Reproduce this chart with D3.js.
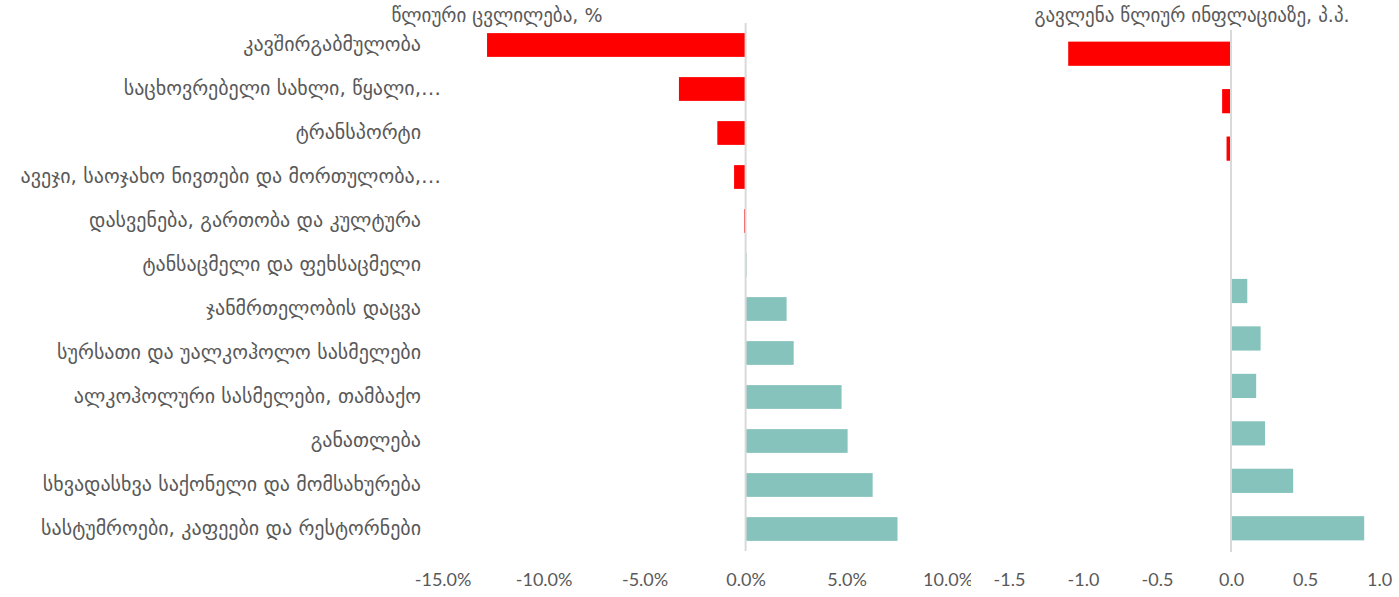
<!DOCTYPE html>
<html>

<head>
    <meta charset='utf-8'>
    <title>Inflation by category</title>
    <script type='text/javascript' src='https://cdn.jsdelivr.net/npm/d3@7'></script>
    <style>
        body { margin: 0; background: #fff; }
    </style>
</head>

<body>
    <svg width='1399' height='597'></svg>
    <script type='text/javascript'>

        // categories, top to bottom
        const categories = [
            'კავშირგაბმულობა',
            'საცხოვრებელი სახლი, წყალი,…',
            'ტრანსპორტი',
            'ავეჯი, საოჯახო ნივთები და მორთულობა,…',
            'დასვენება, გართობა და კულტურა',
            'ტანსაცმელი და ფეხსაცმელი',
            'ჯანმრთელობის დაცვა',
            'სურსათი და უალკოჰოლო სასმელები',
            'ალკოჰოლური სასმელები, თამბაქო',
            'განათლება',
            'სხვადასხვა საქონელი და მომსახურება',
            'სასტუმროები, კაფეები და რესტორნები'
        ]
        // annual change, %
        const annualChange = [-12.8, -3.3, -1.4, -0.57, -0.07, 0.05, 2.03, 2.38, 4.75, 5.05, 6.29, 7.52]
        // contribution to annual inflation, p.p. (11 rows in the right panel)
        const contribution = [-1.1, -0.06, -0.03, 0, 0, 0.11, 0.2, 0.17, 0.23, 0.42, 0.9]

        const leftTicks = [-15, -10, -5, 0, 5, 10]
        const rightTicks = [-1.5, -1.0, -0.5, 0, 0.5, 1.0]
        const leftTitle = 'წლიური ცვლილება, %'
        const rightTitle = 'გავლენა წლიურ ინფლაციაზე, პ.პ.'

        const red = '#ff0000'
        const teal = '#86c3bc'
        const textColor = '#595959'
        const numFont = 'Lato, "Open Sans", sans-serif'
        const geoFont = '"DejaVu Sans", sans-serif'

        const svg = d3.select('svg')

        svg.append('defs').append('clipPath').attr('id', 'leftClip')
            .append('rect').attr('x', 0).attr('y', 0).attr('width', 971).attr('height', 597)

        // ---- left panel ----
        const left = svg.append('g').attr('clip-path', 'url(#leftClip)')

        const xL = d3.scaleLinear().domain([-15, 10]).range([442.6, 947.6])
        const yL = d3.scaleBand().domain(categories).range([23, 551])
            .paddingInner(0.46).paddingOuter(0.23)

        left.selectAll('rect.bar')
            .data(categories)
            .enter()
            .append('rect')
            .attr('class', 'bar')
            .attr('x', (d, i) => Math.min(xL(0), xL(annualChange[i])))
            .attr('y', d => yL(d))
            .attr('width', (d, i) => Math.abs(xL(annualChange[i]) - xL(0)))
            .attr('height', yL.bandwidth())
            .attr('fill', (d, i) => annualChange[i] < 0 ? red : teal)

        left.append('line')
            .attr('x1', xL(0)).attr('x2', xL(0))
            .attr('y1', 23).attr('y2', 551)
            .attr('stroke', '#d9d9d9').attr('stroke-width', 2)

        const axisL = left.append('g')
            .attr('transform', 'translate(0,570)')
            .call(d3.axisBottom(xL).tickValues(leftTicks).tickSize(0).tickPadding(3)
                .tickFormat(d => d.toFixed(1) + '%'))
        axisL.select('.domain').remove()
        axisL.selectAll('text')
            .attr('fill', textColor)
            .style('font-family', numFont)
            .style('font-size', '18px')

        // ellipsis width, so truncated labels hang past the right edge like Excel does
        const probe = svg.append('text').text('…')
            .style('font-family', geoFont).style('font-size', '20px')
        const ellipsisW = probe.node().getComputedTextLength()
        probe.remove()

        left.selectAll('text.cat')
            .data(categories)
            .enter()
            .append('text')
            .attr('class', 'cat')
            .attr('x', d => d.endsWith('…') ? 421 + ellipsisW : 421)
            .attr('y', d => yL(d) + yL.bandwidth() / 2)
            .attr('dy', '0.3em')
            .attr('text-anchor', 'end')
            .attr('fill', textColor)
            .style('font-family', geoFont)
            .style('font-size', '20px')
            .text(d => d)

        svg.append('text')
            .attr('x', 497).attr('y', 16).attr('dy', '0.3em')
            .attr('text-anchor', 'middle')
            .attr('fill', textColor)
            .style('font-family', geoFont)
            .style('font-size', '19px')
            .text(leftTitle)

        // ---- right panel ----
        const right = svg.append('g')
        const xR = d3.scaleLinear().domain([-1.5, 1.0]).range([1009, 1379])
        const yR = d3.scaleBand().domain(d3.range(contribution.length)).range([30, 552])
            .paddingInner(0.49).paddingOuter(0.245)

        right.selectAll('rect.bar')
            .data(contribution)
            .enter()
            .append('rect')
            .attr('class', 'bar')
            .attr('x', d => Math.min(xR(0), xR(d)))
            .attr('y', (d, i) => yR(i))
            .attr('width', d => Math.abs(xR(d) - xR(0)))
            .attr('height', yR.bandwidth())
            .attr('fill', d => d < 0 ? red : teal)

        right.append('line')
            .attr('x1', xR(0)).attr('x2', xR(0))
            .attr('y1', 30).attr('y2', 552)
            .attr('stroke', '#d9d9d9').attr('stroke-width', 2)

        const axisR = right.append('g')
            .attr('transform', 'translate(0,570)')
            .call(d3.axisBottom(xR).tickValues(rightTicks).tickSize(0).tickPadding(3)
                .tickFormat(d => d.toFixed(1)))
        axisR.select('.domain').remove()
        axisR.selectAll('text')
            .attr('fill', textColor)
            .style('font-family', numFont)
            .style('font-size', '18px')

        svg.append('text')
            .attr('x', 1192).attr('y', 16).attr('dy', '0.3em')
            .attr('text-anchor', 'middle')
            .attr('fill', textColor)
            .style('font-family', geoFont)
            .style('font-size', '19px')
            .text(rightTitle)
    </script>
</body>

</html>
